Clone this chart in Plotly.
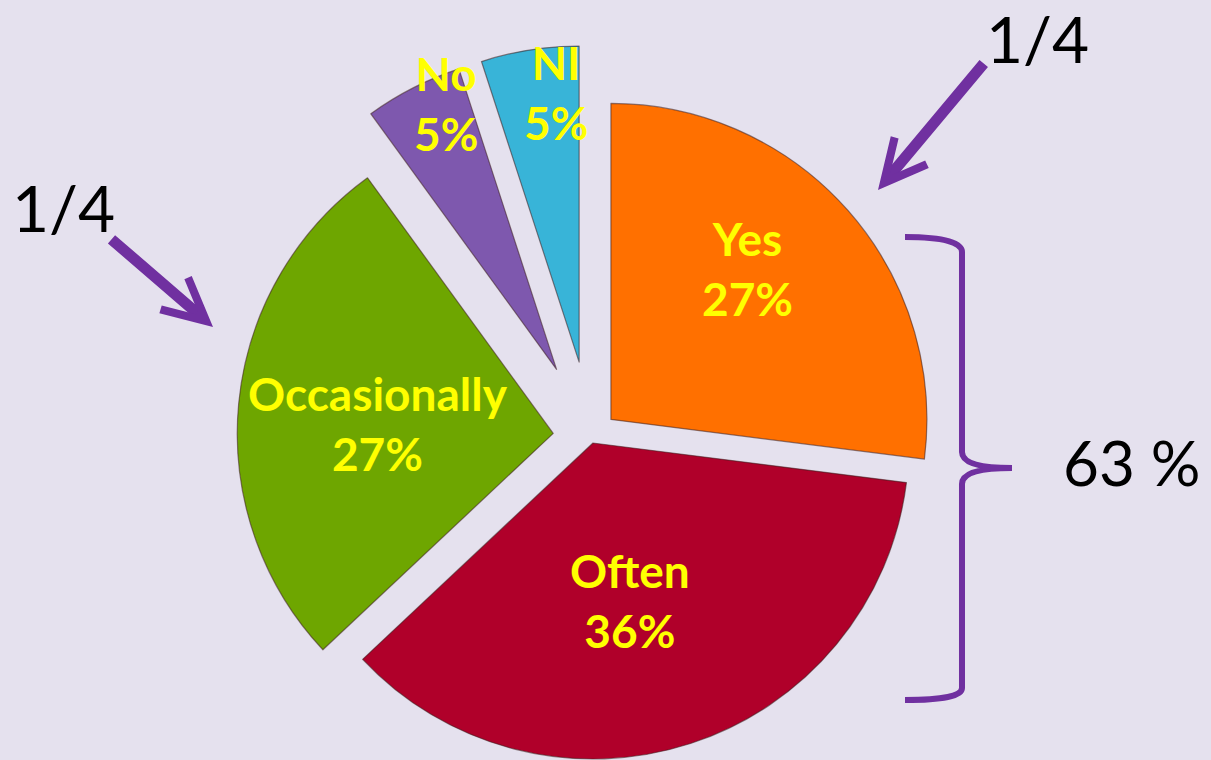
import math
import plotly.graph_objects as go

# ---- data ----
labels = ["Yes", "Often", "Occasionally", "No", "NI"]
values = [27, 36, 27, 5, 5]
colors = ["#FF7000", "#B0002A", "#6EA600", "#7E58AE", "#38B4D8"]
pulls = [0.084, 0.02, 0.12, 0.24, 0.24]

side_notes = ["1/4", "1/4"]
bracket_note = "63 %"

# ---- layout constants ----
W, H = 1211, 760
CX, CY, R = 591, 437, 316
BG = "#E5E1EE"
PURPLE = "#7030A0"
YELLOW = "#FFFF00"
FONT = "Lato"
# label centres (px) for each slice
label_pos = [(748, 268), (630, 600), (378, 423), (446, 104), (556, 92)]


def clamp(v):
    return max(0.0, min(1.0, v))


fig = go.Figure()
total = sum(values)
cum = 0.0
for i, v in enumerate(values):
    mid = (cum + v / 2) / total * 2 * math.pi
    cum += v
    cx = CX + pulls[i] * R * math.sin(mid)
    cy = CY - pulls[i] * R * math.cos(mid)
    dom_x = [clamp((cx - R) / W), clamp((cx + R) / W)]
    dom_y = [clamp(1 - (cy + R) / H), clamp(1 - (cy - R) / H)]
    fig.add_trace(go.Pie(
        labels=labels,
        values=values,
        sort=False,
        direction="clockwise",
        rotation=0,
        marker=dict(
            colors=[c if j == i else "rgba(0,0,0,0)" for j, c in enumerate(colors)],
            line=dict(color="rgba(60,30,30,0.55)",
                      width=[1.2 if j == i else 0 for j in range(len(values))]),
        ),
        textinfo="none",
        domain=dict(x=dom_x, y=dom_y),
        showlegend=False,
        hoverinfo="skip",
    ))

# slice labels
for i, (px, py) in enumerate(label_pos):
    pct = round(values[i] / total * 100)
    fig.add_annotation(
        x=px / W, y=1 - py / H, xref="paper", yref="paper",
        text=f"<b>{labels[i]}<br>{pct}%</b>", showarrow=False,
        font=dict(family=FONT, size=46, color=YELLOW),
        xanchor="center", yanchor="middle",
    )

# "1/4" notes with arrows
fig.add_annotation(x=1037 / W, y=1 - 38 / H, xref="paper", yref="paper",
                   text=side_notes[0], showarrow=False,
                   xanchor="center", yanchor="middle",
                   font=dict(family=FONT, size=64, color="black"))
fig.add_annotation(x=63 / W, y=1 - 207 / H, xref="paper", yref="paper",
                   text=side_notes[1], showarrow=False,
                   xanchor="center", yanchor="middle",
                   font=dict(family=FONT, size=64, color="black"))
fig.add_annotation(x=878 / W, y=1 - 190 / H, xref="paper", yref="paper",
                   ax=107, ay=-128, text="", showarrow=True,
                   arrowhead=5, arrowsize=0.75, arrowwidth=11, arrowcolor=PURPLE,
                   standoff=0)
fig.add_annotation(x=213 / W, y=1 - 327 / H, xref="paper", yref="paper",
                   ax=-103, ay=-89, text="", showarrow=True,
                   arrowhead=5, arrowsize=0.75, arrowwidth=11, arrowcolor=PURPLE,
                   standoff=0)

# curly brace
def p(x, y):
    return f"{x / W:.5f},{1 - y / H:.5f}"

brace = (f"M{p(905, 237)} Q{p(962, 237)} {p(962, 252)} L{p(962, 452)} "
         f"Q{p(962, 468)} {p(1012, 468)} Q{p(962, 468)} {p(962, 484)} "
         f"L{p(962, 688)} Q{p(962, 700)} {p(905, 700)}")
fig.add_shape(type="path", path=brace, xref="paper", yref="paper",
              line=dict(color=PURPLE, width=6))

fig.add_annotation(x=1132 / W, y=1 - 462 / H, xref="paper", yref="paper",
                   text=bracket_note, showarrow=False,
                   xanchor="center", yanchor="middle",
                   font=dict(family=FONT, size=62, color="black"))

fig.update_layout(
    width=W, height=H,
    margin=dict(l=0, r=0, t=0, b=0),
    paper_bgcolor=BG, plot_bgcolor=BG,
)

fig.write_html(
    "out.html",
    config={"displayModeBar": False},
    post_script="document.body.style.margin='0';document.body.style.padding='0';"
                "document.body.style.background='" + BG + "';",
)
